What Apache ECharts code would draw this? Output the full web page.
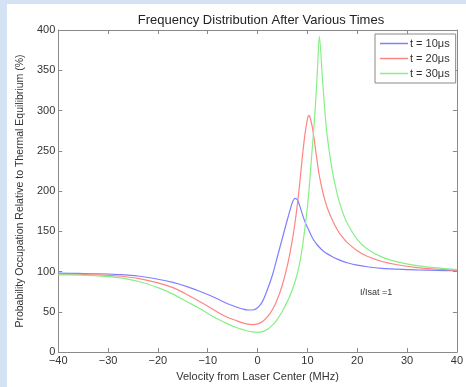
<!DOCTYPE html>
<html>
<head>
<meta charset="utf-8">
<script src="https://cdn.jsdelivr.net/npm/echarts@6/dist/echarts.min.js"></script>
<style>
  html, body { margin: 0; padding: 0; }
  body {
    width: 466px;
    height: 387px;
    background: #d4e2f4;
    position: relative;
    overflow: hidden;
  }
  #main {
    position: absolute;
    left: 7px;
    top: 4px;
    width: 459px;
    height: 383px;
    background: #ffffff;
  }
</style>
</head>
<body>
<div id="main"></div>
<script>
// velocity from laser center (MHz)
var velocity = [-40, -36, -32, -28, -24, -20, -17, -14, -12, -10, -8, -6, -4, -3, -2, -1, 0, 1, 2, 3, 4, 5, 6, 6.5, 7, 7.5, 8, 8.5, 9, 9.5, 10, 10.25, 10.5, 11, 11.5, 12, 12.4, 13, 13.5, 14, 15, 16, 17, 18, 20, 22, 25, 28, 32, 36, 40]

// occupation relative to thermal equilibrium (%)
var t10 = [98, 97.7, 97.3, 96.3, 94.5, 90.5, 86.5, 81, 76.5, 71.5, 66, 60, 55.5, 53.5, 52.3, 52.3, 55, 63, 78, 96, 119, 142, 165, 176, 186, 191, 189, 181, 171, 162, 155, 152, 148.5, 142, 137, 133, 130.2, 126.5, 124, 122, 118.5, 115.5, 113, 111, 108, 106, 104, 103, 102, 101.5, 101]
var t20 = [97, 96.7, 96, 94.5, 91.5, 86, 80, 71, 64, 57, 49.5, 43, 38.5, 36.3, 34.8, 34.2, 35, 38, 44, 53, 66, 84, 108, 123, 140, 160, 184, 212, 243, 270, 289, 294, 292, 279, 258, 235, 219, 201, 189, 179, 164, 152, 143, 136, 126, 119, 112.5, 108.5, 105, 103, 101.5]
var t30 = [96, 95.6, 94.7, 92.5, 88, 80, 72, 62, 55.5, 48, 41, 35, 30, 28, 26.2, 25, 24.5, 25.5, 28.5, 33.5, 41, 51, 63, 70, 78, 87, 98, 112, 131, 154, 180, 196, 215, 255, 296, 348, 392, 342, 300, 267, 225, 196, 175, 160, 140, 128, 118, 112, 107.5, 104.5, 102.5]

var seriesNames = ['t = 10\u03bcs', 't = 20\u03bcs', 't = 30\u03bcs']
var seriesColors = ['#7f7fff', '#ff8484', '#86f086']
var xTicks = { min: -40, max: 40, step: 10 }
var yTicks = { min: 0, max: 400, step: 50 }

var font = 'Liberation Sans, Arial, sans-serif'

function pairs(ys) {
  return velocity.map(function (v, i) { return [v, ys[i]] })
}

function lineSeries(i, ys) {
  return {
    name: seriesNames[i],
    type: 'line',
    data: pairs(ys),
    smooth: 0.3,
    showSymbol: false,
    itemStyle: { color: seriesColors[i], borderWidth: 0 },
    lineStyle: { width: 1.2, color: seriesColors[i] }
  }
}

var axisLine = { show: true, onZero: false, lineStyle: { color: '#8a8a8a', width: 1 } }
var tickIn = { show: true, inside: true, length: 4, lineStyle: { color: '#8a8a8a' } }

var chart = echarts.init(document.getElementById('main'))
var option = {
  animation: false,
  title: {
    text: 'Frequency Distribution After Various Times',
    left: 249,
    top: 5,
    textAlign: 'center',
    textStyle: { fontFamily: font, fontSize: 13, fontWeight: 'normal', color: '#222' }
  },
  legend: {
    data: seriesNames,
    orient: 'vertical',
    left: 368,
    top: 30,
    itemWidth: 28,
    itemHeight: 1.5,
    itemGap: 4,
    icon: 'rect',
    itemStyle: { borderWidth: 0 },
    padding: [4, 6, 4, 5],
    borderColor: '#8a8a8a',
    borderWidth: 1,
    borderRadius: 0,
    backgroundColor: '#fff',
    textStyle: { fontFamily: font, fontSize: 11, color: '#333', padding: [0, 0, 0, -3] }
  },
  grid: { left: 41, top: 26, right: 3, bottom: 31, containLabel: false },
  xAxis: [{
    type: 'value',
    min: xTicks.min, max: xTicks.max, interval: xTicks.step,
    name: 'Velocity from Laser Center (MHz)',
    nameLocation: 'middle',
    nameGap: 18,
    nameTextStyle: { fontFamily: font, fontSize: 11, color: '#333' },
    axisLine: axisLine,
    axisTick: tickIn,
    splitLine: { show: false },
    axisLabel: { fontFamily: font, fontSize: 11, color: '#333', margin: 3,
      formatter: function (v) { return v < 0 ? '\u2212' + Math.abs(v) : String(v) } }
  }, {
    type: 'value', position: 'top',
    min: xTicks.min, max: xTicks.max, interval: xTicks.step,
    axisLine: axisLine, axisTick: tickIn,
    axisLabel: { show: false }, splitLine: { show: false }
  }],
  yAxis: [{
    type: 'value',
    min: yTicks.min, max: yTicks.max, interval: yTicks.step,
    name: 'Probability Occupation Relative to Thermal Equilibrium (%)',
    nameLocation: 'middle',
    nameGap: 30,
    nameTextStyle: { fontFamily: font, fontSize: 10.5, color: '#333' },
    axisLine: axisLine,
    axisTick: tickIn,
    splitLine: { show: false },
    axisLabel: { fontFamily: font, fontSize: 11, color: '#333', margin: 3 }
  }, {
    type: 'value', position: 'right',
    min: yTicks.min, max: yTicks.max, interval: yTicks.step,
    axisLine: axisLine, axisTick: tickIn,
    axisLabel: { show: false }, splitLine: { show: false }
  }],
  graphic: [{
    type: 'text',
    left: 353,
    top: 284,
    style: { text: 'I/Isat =1', fontFamily: font, fontSize: 9, fill: '#333' }
  }],
  series: [lineSeries(0, t10), lineSeries(1, t20), lineSeries(2, t30)]
}
chart.setOption(option)
</script>
</body>
</html>
